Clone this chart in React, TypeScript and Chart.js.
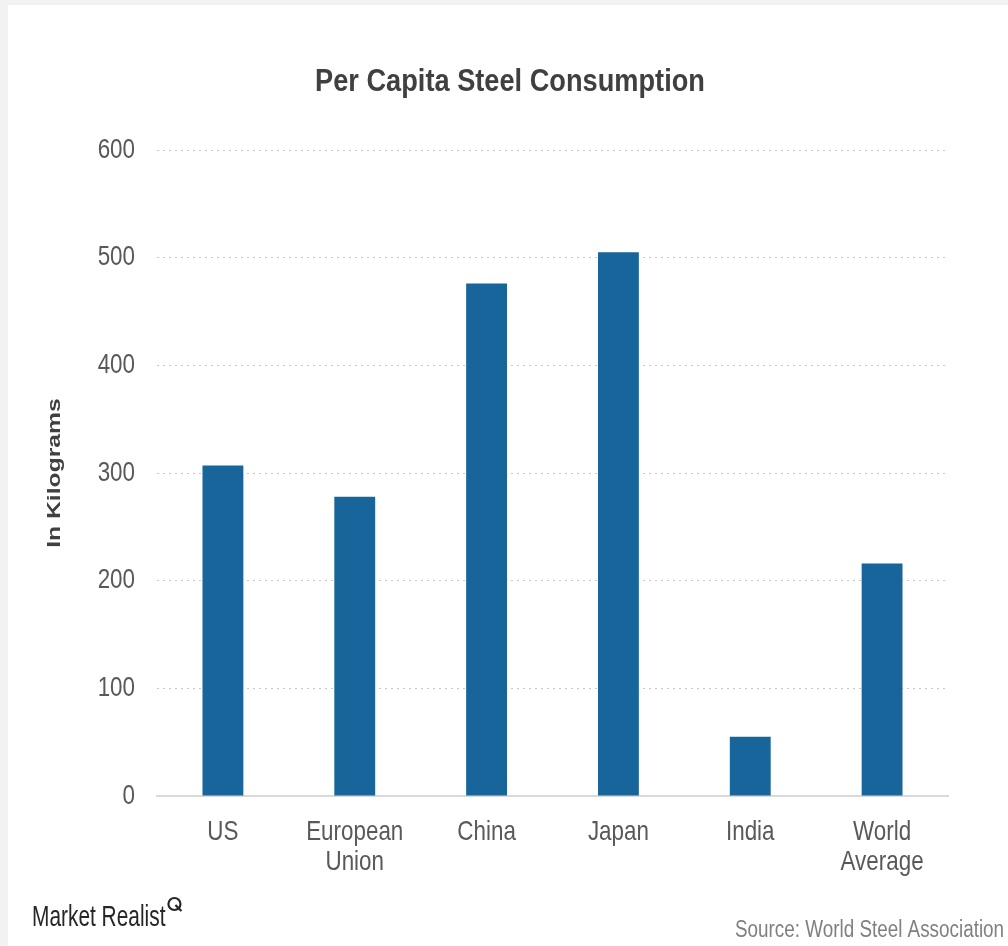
import React, { useEffect, useRef } from "react";
import { Chart, registerables } from "chart.js";

Chart.register(...registerables);

const categories: string[][] = [["US"], ["European", "Union"], ["China"], ["Japan"], ["India"], ["World", "Average"]];
const values: number[] = [307, 278, 476, 505, 55, 216];
const yMin = 0;
const yMax = 600;
const yStep = 100;
const chartTitle = "Per Capita Steel Consumption";
const yAxisTitle = "In Kilograms";
const brandText = "Market Realist";
const sourceText = "Source: World Steel Association";

const FONT = "'Liberation Sans', Arial, sans-serif";

function drawNarrow(
  ctx: CanvasRenderingContext2D,
  text: string,
  x: number,
  y: number,
  font: string,
  color: string,
  align: CanvasTextAlign,
  sx: number
) {
  ctx.save();
  ctx.translate(x, y);
  ctx.scale(sx, 1);
  ctx.font = font;
  ctx.fillStyle = color;
  ctx.textAlign = align;
  ctx.textBaseline = "middle";
  ctx.fillText(text, 0, 0);
  ctx.restore();
}

const textPlugin = {
  id: "texts",
  afterDraw(chart: any) {
    const ctx = chart.ctx as CanvasRenderingContext2D;
    const area = chart.chartArea;
    const xs = chart.scales.x;
    const ys = chart.scales.y;

    // Title
    drawNarrow(ctx, chartTitle, 502, 77, `bold 32px ${FONT}`, "#404040", "center", 0.85);

    // Y ticks
    ys.ticks.forEach((t: any) => {
      const y = ys.getPixelForValue(t.value);
      drawNarrow(ctx, String(t.value), area.left - 22, y, `28px ${FONT}`, "#595959", "right", 0.8);
    });

    // X ticks
    categories.forEach((lines, i) => {
      const x = xs.getPixelForTick(i);
      lines.forEach((line, j) => {
        drawNarrow(ctx, line, x, area.bottom + 36 + j * 30, `28px ${FONT}`, "#595959", "center", 0.8);
      });
    });

    // Y axis title (stretched along its length)
    ctx.save();
    ctx.translate(47, 468);
    ctx.rotate(-Math.PI / 2);
    ctx.scale(1.3, 1);
    ctx.font = `bold 19px ${FONT}`;
    ctx.fillStyle = "#404040";
    ctx.textAlign = "center";
    ctx.textBaseline = "middle";
    ctx.fillText(yAxisTitle, 0, 0);
    ctx.restore();

    // Brand
    const brandFont = `29px ${FONT}`;
    drawNarrow(ctx, brandText, 24, 913, brandFont, "#262626", "left", 0.72);
    ctx.save();
    ctx.font = brandFont;
    const w = ctx.measureText(brandText).width * 0.72;
    ctx.restore();
    const cx = 24 + w + 9;
    const cy = 899;
    ctx.save();
    ctx.strokeStyle = "#262626";
    ctx.lineWidth = 2.2;
    ctx.beginPath();
    ctx.arc(cx, cy, 6, 0, Math.PI * 2);
    ctx.stroke();
    ctx.beginPath();
    ctx.moveTo(cx + 1, cy + 1);
    ctx.lineTo(cx + 7, cy + 7);
    ctx.stroke();
    ctx.restore();

    // Source
    drawNarrow(ctx, sourceText, 727, 926, `23px ${FONT}`, "#808080", "left", 0.82);
  },
};

export default function App() {
  const canvasRef = useRef<HTMLCanvasElement | null>(null);

  useEffect(() => {
    if (!canvasRef.current) return;
    const chart = new Chart(canvasRef.current, {
      type: "bar",
      data: {
        labels: categories,
        datasets: [
          {
            data: values,
            backgroundColor: "#17659a",
            borderWidth: 0,
            categoryPercentage: 1,
            barPercentage: 0.31,
          },
        ],
      },
      options: {
        animation: false,
        responsive: true,
        maintainAspectRatio: false,
        layout: { padding: { left: 69, right: 60, top: 145, bottom: 40 } },
        plugins: {
          legend: { display: false },
          tooltip: { enabled: false },
          title: { display: false },
        },
        scales: {
          x: {
            grid: { display: false, drawTicks: false },
            border: { display: true, color: "#d9d9d9", width: 2 },
            ticks: { display: false, autoSkip: false },
            afterFit: (s: any) => {
              s.height = 110;
            },
          },
          y: {
            min: yMin,
            max: yMax,
            ticks: { stepSize: yStep, display: false },
            grid: { color: "#c8c8c8", lineWidth: 1, drawTicks: false },
            border: { display: false, dash: [2, 4] },
            afterFit: (s: any) => {
              s.width = 80;
            },
          },
        },
      },
      plugins: [textPlugin],
    });
    return () => chart.destroy();
  }, []);

  return (
    <div style={{ position: "fixed", left: 0, top: 0, width: 1008, height: 946, background: "#f2f2f2" }}>
      <div style={{ position: "absolute", left: 8, top: 5, width: 1000, height: 941, background: "#ffffff" }}>
        <canvas ref={canvasRef} />
      </div>
    </div>
  );
}
